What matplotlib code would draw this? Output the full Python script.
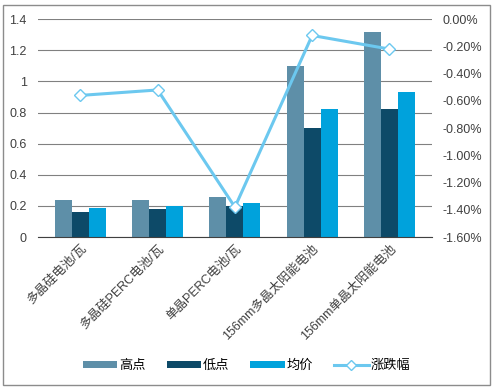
import numpy as np
import matplotlib.pyplot as plt
from matplotlib.ticker import FuncFormatter

plt.rcParams['font.family'] = ['Liberation Sans', 'Noto Sans CJK SC', 'DejaVu Sans']

categories = ["多晶硅电池/瓦", "多晶硅PERC电池/瓦", "单晶PERC电池/瓦",
              "156mm多晶太阳能电池", "156mm单晶太阳能电池"]
high = [0.24, 0.24, 0.26, 1.10, 1.32]
low = [0.16, 0.18, 0.20, 0.70, 0.82]
avg = [0.19, 0.20, 0.22, 0.82, 0.93]
change = [-0.56, -0.52, -1.38, -0.12, -0.22]  # percent

c_high = "#5e8fa8"
c_low = "#0d4a68"
c_avg = "#00a2dc"
c_line = "#6cc8ef"

fig = plt.figure(figsize=(4.93, 3.9), dpi=100)
ax = fig.add_axes([0.077, 0.392, 0.799, 0.559])

x = np.arange(len(categories))
w = 0.22
b1 = ax.bar(x - w, high, w, color=c_high, label="高点")
b2 = ax.bar(x, low, w, color=c_low, label="低点")
b3 = ax.bar(x + w, avg, w, color=c_avg, label="均价")

ax.set_ylim(0, 1.4)
ax.set_yticks(np.arange(0, 1.41, 0.2))
ax.yaxis.set_major_formatter(FuncFormatter(lambda v, p: "0" if v == 0 else ("1" if abs(v - 1) < 1e-9 else f"{v:.1f}")))
ax.set_xlim(-0.55, len(categories) - 0.45)
ax.grid(axis="y", color="#808080", linewidth=0.8)
ax.set_axisbelow(True)
for s in ["top", "right", "left"]:
    ax.spines[s].set_visible(False)
ax.spines["bottom"].set_color("#404040")
ax.tick_params(axis="both", length=0, labelsize=9, colors="#404040")
ax.set_xticks(x)
ax.set_xticklabels(categories, rotation=45, ha="right", rotation_mode="anchor", fontsize=9)
ax.tick_params(axis="x", pad=4)
ax.tick_params(axis="y", pad=8)

ax2 = ax.twinx()
ln, = ax2.plot(x, change, color=c_line, linewidth=2.2, marker="D", markersize=6,
               markerfacecolor="white", markeredgecolor=c_line, markeredgewidth=1.0, label="涨跌幅")
ax2.set_ylim(-1.6, 0)
ax2.set_yticks(np.arange(-1.6, 0.01, 0.2))
ax2.yaxis.set_major_formatter(FuncFormatter(lambda v, p: f"{v:.2f}%" if abs(v) > 1e-9 else "0.00%"))
for s in ["top", "right", "left", "bottom"]:
    ax2.spines[s].set_visible(False)
ax2.tick_params(axis="y", length=0, labelsize=9, colors="#404040", pad=8)

leg = fig.legend(handles=[b1, b2, b3, ln], loc="center", bbox_to_anchor=(0.5, 0.062), ncol=4,
                 frameon=False, fontsize=9.5, handlelength=2.6, handleheight=0.5,
                 handletextpad=0.15, columnspacing=1.6, markerscale=0.8)

border = plt.Rectangle((0.006, 0.013), 0.988, 0.975, transform=fig.transFigure,
                       fill=False, edgecolor="#8c8c8c", linewidth=1.0)
fig.patches.append(border)

fig.savefig("out.png", dpi=100)
